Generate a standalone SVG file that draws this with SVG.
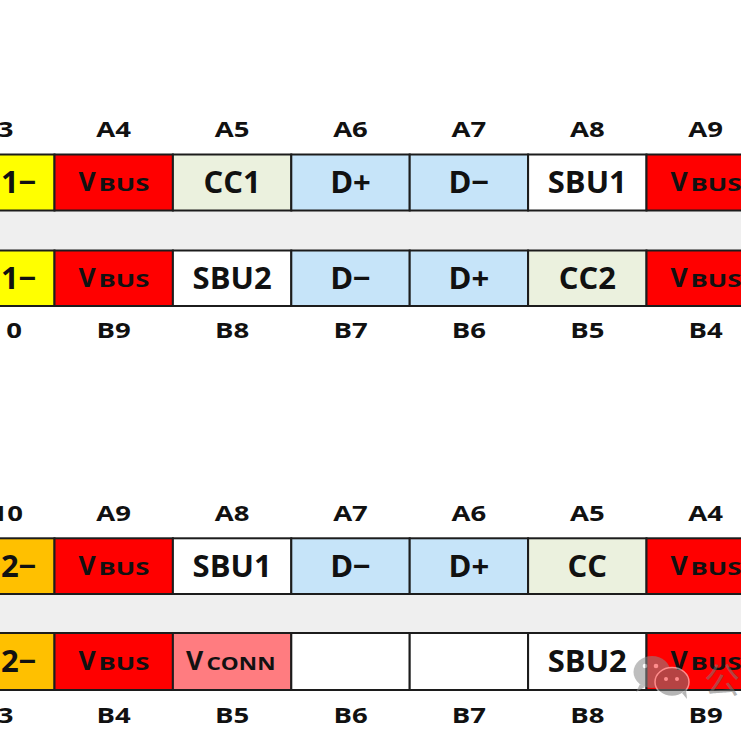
<svg xmlns="http://www.w3.org/2000/svg" width="741" height="740" viewBox="0 0 741 740">
<style>
.cell{stroke:#1c1c1c;stroke-width:2}
.t{font-family:"Open Sans","Noto Sans","Liberation Sans",sans-serif;font-weight:700;fill:#111}
.m{font-size:31px;text-anchor:middle}
.me{font-size:31px;text-anchor:end}
.l{font-size:21.5px;text-anchor:middle}
.le{font-size:21.5px;text-anchor:end}
.v{font-size:26.5px}
.s{font-size:18.5px}
.y{fill:#ffff00}.r{fill:#ff0000}.g{fill:#ebf1de}.b{fill:#c6e4f9}.w{fill:#ffffff}.o{fill:#ffc000}.p{fill:#ff7c80}
.band{fill:#efefef}
</style>
<rect width="741" height="740" fill="#ffffff"/>
<rect class="band" x="0" y="210.5" width="741" height="40"/>
<rect class="band" x="0" y="594" width="741" height="39"/>

<!-- top connector pin labels -->
<g id="labels-top-A" class="t">
<text class="le" transform="translate(13.5 137.3) scale(1.28 1)">3</text>
<text class="l" transform="translate(113.7 137.3) scale(1.28 1)">A4</text>
<text class="l" transform="translate(232.1 137.3) scale(1.28 1)">A5</text>
<text class="l" transform="translate(350.5 137.3) scale(1.28 1)">A6</text>
<text class="l" transform="translate(468.9 137.3) scale(1.28 1)">A7</text>
<text class="l" transform="translate(587.3 137.3) scale(1.28 1)">A8</text>
<text class="l" transform="translate(705.7 137.3) scale(1.28 1)">A9</text>
</g>
<g id="labels-top-B" class="t">
<text class="le" transform="translate(22 338.3) scale(1.28 1)">0</text>
<text class="l" transform="translate(113.7 338.3) scale(1.28 1)">B9</text>
<text class="l" transform="translate(232.1 338.3) scale(1.28 1)">B8</text>
<text class="l" transform="translate(350.5 338.3) scale(1.28 1)">B7</text>
<text class="l" transform="translate(468.9 338.3) scale(1.28 1)">B6</text>
<text class="l" transform="translate(587.3 338.3) scale(1.28 1)">B5</text>
<text class="l" transform="translate(705.7 338.3) scale(1.28 1)">B4</text>
</g>

<!-- row 1 -->
<g id="r1-A3"><rect class="cell y" x="-2" y="154.5" width="56.5" height="56"/><text class="t me" x="36.5" y="193.3">1−</text></g>
<g id="r1-A4"><rect class="cell r" x="54.5" y="154.5" width="118.4" height="56"/><text class="t v" x="78.5" y="191">V</text><text class="t s" x="98.5" y="191" textLength="51" lengthAdjust="spacingAndGlyphs">BUS</text></g>
<g id="r1-A5"><rect class="cell g" x="172.9" y="154.5" width="118.4" height="56"/><text class="t m" x="232.1" y="193.3">CC1</text></g>
<g id="r1-A6"><rect class="cell b" x="291.3" y="154.5" width="118.4" height="56"/><text class="t m" x="350.5" y="193.3">D+</text></g>
<g id="r1-A7"><rect class="cell b" x="409.7" y="154.5" width="118.4" height="56"/><text class="t m" x="468.9" y="193.3">D−</text></g>
<g id="r1-A8"><rect class="cell w" x="528.1" y="154.5" width="118.4" height="56"/><text class="t m" x="587.3" y="193.3">SBU1</text></g>
<g id="r1-A9"><rect class="cell r" x="646.5" y="154.5" width="97" height="56"/><text class="t v" x="670.5" y="191">V</text><text class="t s" x="690.5" y="191" textLength="51" lengthAdjust="spacingAndGlyphs">BUS</text></g>

<!-- row 2 -->
<g id="r2-B10"><rect class="cell y" x="-2" y="250.5" width="56.5" height="55.5"/><text class="t me" x="36.5" y="289">1−</text></g>
<g id="r2-B9"><rect class="cell r" x="54.5" y="250.5" width="118.4" height="55.5"/><text class="t v" x="78.5" y="287">V</text><text class="t s" x="98.5" y="287" textLength="51" lengthAdjust="spacingAndGlyphs">BUS</text></g>
<g id="r2-B8"><rect class="cell w" x="172.9" y="250.5" width="118.4" height="55.5"/><text class="t m" x="232.1" y="289">SBU2</text></g>
<g id="r2-B7"><rect class="cell b" x="291.3" y="250.5" width="118.4" height="55.5"/><text class="t m" x="350.5" y="289">D−</text></g>
<g id="r2-B6"><rect class="cell b" x="409.7" y="250.5" width="118.4" height="55.5"/><text class="t m" x="468.9" y="289">D+</text></g>
<g id="r2-B5"><rect class="cell g" x="528.1" y="250.5" width="118.4" height="55.5"/><text class="t m" x="587.3" y="289">CC2</text></g>
<g id="r2-B4"><rect class="cell r" x="646.5" y="250.5" width="97" height="55.5"/><text class="t v" x="670.5" y="287">V</text><text class="t s" x="690.5" y="287" textLength="51" lengthAdjust="spacingAndGlyphs">BUS</text></g>

<!-- bottom connector pin labels -->
<g id="labels-bottom-A" class="t">
<text class="le" transform="translate(23 521.3) scale(1.28 1)">10</text>
<text class="l" transform="translate(113.7 521.3) scale(1.28 1)">A9</text>
<text class="l" transform="translate(232.1 521.3) scale(1.28 1)">A8</text>
<text class="l" transform="translate(350.5 521.3) scale(1.28 1)">A7</text>
<text class="l" transform="translate(468.9 521.3) scale(1.28 1)">A6</text>
<text class="l" transform="translate(587.3 521.3) scale(1.28 1)">A5</text>
<text class="l" transform="translate(705.7 521.3) scale(1.28 1)">A4</text>
</g>
<g id="labels-bottom-B" class="t">
<text class="le" transform="translate(13.5 723.3) scale(1.28 1)">3</text>
<text class="l" transform="translate(113.7 723.3) scale(1.28 1)">B4</text>
<text class="l" transform="translate(232.1 723.3) scale(1.28 1)">B5</text>
<text class="l" transform="translate(350.5 723.3) scale(1.28 1)">B6</text>
<text class="l" transform="translate(468.9 723.3) scale(1.28 1)">B7</text>
<text class="l" transform="translate(587.3 723.3) scale(1.28 1)">B8</text>
<text class="l" transform="translate(705.7 723.3) scale(1.28 1)">B9</text>
</g>

<!-- row 3 -->
<g id="r3-A10"><rect class="cell o" x="-2" y="538.3" width="56.5" height="55.7"/><text class="t me" x="36.5" y="577">2−</text></g>
<g id="r3-A9"><rect class="cell r" x="54.5" y="538.3" width="118.4" height="55.7"/><text class="t v" x="78.5" y="575">V</text><text class="t s" x="98.5" y="575" textLength="51" lengthAdjust="spacingAndGlyphs">BUS</text></g>
<g id="r3-A8"><rect class="cell w" x="172.9" y="538.3" width="118.4" height="55.7"/><text class="t m" x="232.1" y="577">SBU1</text></g>
<g id="r3-A7"><rect class="cell b" x="291.3" y="538.3" width="118.4" height="55.7"/><text class="t m" x="350.5" y="577">D−</text></g>
<g id="r3-A6"><rect class="cell b" x="409.7" y="538.3" width="118.4" height="55.7"/><text class="t m" x="468.9" y="577">D+</text></g>
<g id="r3-A5"><rect class="cell g" x="528.1" y="538.3" width="118.4" height="55.7"/><text class="t m" x="587.3" y="577">CC</text></g>
<g id="r3-A4"><rect class="cell r" x="646.5" y="538.3" width="97" height="55.7"/><text class="t v" x="670.5" y="575">V</text><text class="t s" x="690.5" y="575" textLength="51" lengthAdjust="spacingAndGlyphs">BUS</text></g>

<!-- row 4 -->
<g id="r4-B3"><rect class="cell o" x="-2" y="633" width="56.5" height="57"/><text class="t me" x="36.5" y="672.3">2−</text></g>
<g id="r4-B4"><rect class="cell r" x="54.5" y="633" width="118.4" height="57"/><text class="t v" x="78.5" y="670">V</text><text class="t s" x="98.5" y="670" textLength="51" lengthAdjust="spacingAndGlyphs">BUS</text></g>
<g id="r4-B5"><rect class="cell p" x="172.9" y="633" width="118.4" height="57"/><text class="t v" x="186" y="670">V</text><text class="t s" x="206.5" y="670" textLength="69" lengthAdjust="spacingAndGlyphs">CONN</text></g>
<g id="r4-B6"><rect class="cell w" x="291.3" y="633" width="118.4" height="57"/></g>
<g id="r4-B7"><rect class="cell w" x="409.7" y="633" width="118.4" height="57"/></g>
<g id="r4-B8"><rect class="cell w" x="528.1" y="633" width="118.4" height="57"/><text class="t m" x="587.3" y="672.3">SBU2</text></g>
<g id="r4-B9"><rect class="cell r" x="646.5" y="633" width="97" height="57"/><text class="t v" x="670.5" y="670">V</text><text class="t s" x="690.5" y="670" textLength="51" lengthAdjust="spacingAndGlyphs">BUS</text></g>

<!-- watermark -->
<g id="watermark" opacity="0.55">
<ellipse cx="652" cy="672" rx="18.5" ry="16" fill="#8a8a8a"/>
<path d="M640 684 l-4 8 l9 -5 z" fill="#8a8a8a"/>
<ellipse cx="672" cy="682" rx="17" ry="14.5" fill="#7a7a7a" stroke="#ffffff" stroke-width="1.5"/>
<path d="M682 693 l5 6 l-1 -9 z" fill="#7a7a7a"/>
<circle cx="645" cy="666" r="2.3" fill="#ffffff"/>
<circle cx="656" cy="666" r="2.3" fill="#ffffff"/>
<circle cx="666" cy="679" r="2" fill="#ffffff"/>
<circle cx="677" cy="679" r="2" fill="#ffffff"/>
<text x="704" y="694" font-family="'Noto Sans CJK SC',sans-serif" font-size="36" fill="#777777">公</text>
</g>
</svg>
